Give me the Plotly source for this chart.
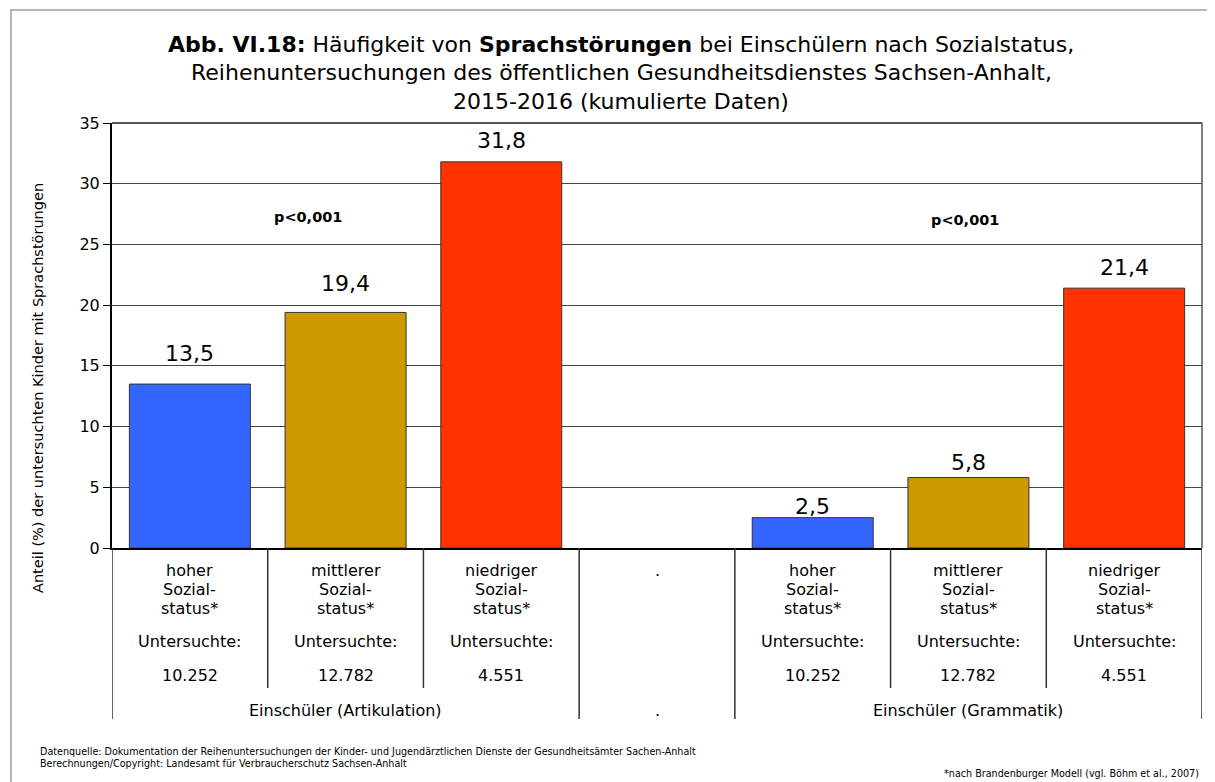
import plotly.graph_objects as go

# ---- data ----
slots = [0, 1, 2, 3, 4, 5, 6]
values = [13.5, 19.4, 31.8, None, 2.5, 5.8, 21.4]
bar_colors = ["#3366FF", "#CC9900", "#FF3300", "#FFFFFF", "#3366FF", "#CC9900", "#FF3300"]
cat_line1 = ["hoher", "mittlerer", "niedriger", ".", "hoher", "mittlerer", "niedriger"]
cat_line2 = ["Sozial-", "Sozial-", "Sozial-", "", "Sozial-", "Sozial-", "Sozial-"]
cat_line3 = ["status*", "status*", "status*", "", "status*", "status*", "status*"]
cat_line4 = ["Untersuchte:", "Untersuchte:", "Untersuchte:", "", "Untersuchte:", "Untersuchte:", "Untersuchte:"]
cat_counts = ["10.252", "12.782", "4.551", "", "10.252", "12.782", "4.551"]
groups = ["Einschüler (Artikulation)", ".", "Einschüler (Grammatik)"]
group_centers = [1, 3, 5]
pvals = ["p<0,001", "p<0,001"]
p_x = [0.76, 4.98]
p_y = [27.3, 27.0]

# style: vertical offset (px) of each value label above its bar
label_shift = [16, 14, 7, 0, -3, 1, 6]

FONT = "DejaVu Sans, Liberation Sans, Arial, sans-serif"
OFF = 8  # default page body margin
W, H = 1215 - OFF, 782 - OFF
L, R, T, B = 112, 1202, 123, 548


def px(xs):
    return (xs - L) / (R - L)


def py(ys):
    return (B - ys) / (B - T)


fig = go.Figure()
fig.add_bar(
    x=slots, y=values, marker=dict(color=bar_colors, line=dict(color="#333333", width=1)),
    hoverinfo="skip", showlegend=False,
)

ann = []
for s, v, sh in zip(slots, values, label_shift):
    if v is None:
        continue
    ann.append(dict(text=f"{v:.1f}".replace(".", ","), xref="x", yref="y", x=s, y=v,
                    xanchor="center", yanchor="bottom", yshift=sh, showarrow=False,
                    font=dict(size=22, color="black", family=FONT)))
title_lines = [
    "<b>Abb. VI.18:</b> Häufigkeit von <b>Sprachstörungen</b> bei Einschülern nach Sozialstatus,",
    "Reihenuntersuchungen des öffentlichen Gesundheitsdienstes Sachsen-Anhalt,",
    "2015-2016 (kumulierte Daten)",
]
for i, t in enumerate(title_lines):
    ann.append(dict(text=t, xref="paper", yref="paper", x=px(621), y=py(45 + i * 28),
                    xanchor="center", yanchor="middle", showarrow=False,
                    font=dict(size=22, color="black", family=FONT)))
ann.append(dict(text="Anteil (%) der untersuchten Kinder mit Sprachstörungen", textangle=-90,
                xref="paper", yref="paper", x=px(38), y=py(388), xanchor="center", yanchor="middle",
                showarrow=False, font=dict(size=14.5, color="black", family=FONT)))
for t, xv, yv in zip(pvals, p_x, p_y):
    ann.append(dict(text=f"<b>{t}</b>", xref="x", yref="y", x=xv, y=yv, showarrow=False,
                    font=dict(size=14.5, color="black", family=FONT)))
rows = [(cat_line1, 570), (cat_line2, 589), (cat_line3, 608), (cat_line4, 641), (cat_counts, 675)]
for arr, ys in rows:
    for s, t in zip(slots, arr):
        if t:
            ann.append(dict(text=t, xref="x", yref="paper", x=s, y=py(ys), showarrow=False,
                            xanchor="center", yanchor="middle",
                            font=dict(size=16, color="black", family=FONT)))
for g, c in zip(groups, group_centers):
    ann.append(dict(text=g, xref="x", yref="paper", x=c, y=py(710), showarrow=False,
                    xanchor="center", yanchor="middle", font=dict(size=16, color="black", family=FONT)))
ann.append(dict(text="Datenquelle: Dokumentation der Reihenuntersuchungen der Kinder- und Jugendärztlichen Dienste der Gesundheitsämter Sachen-Anhalt",
                xref="paper", yref="paper", x=px(38), y=py(751), xanchor="left", yanchor="middle",
                showarrow=False, font=dict(size=9.6, color="black", family=FONT)))
ann.append(dict(text="Berechnungen/Copyright: Landesamt für Verbraucherschutz Sachsen-Anhalt",
                xref="paper", yref="paper", x=px(38), y=py(763), xanchor="left", yanchor="middle",
                showarrow=False, font=dict(size=9.6, color="black", family=FONT)))
ann.append(dict(text="*nach Brandenburger Modell (vgl. Böhm et al., 2007)",
                xref="paper", yref="paper", x=px(1201), y=py(773), xanchor="right", yanchor="middle",
                showarrow=False, font=dict(size=9.6, color="black", family=FONT)))

shapes = []
shapes.append(dict(type="rect", xref="paper", yref="paper", x0=px(11), y0=py(10), x1=px(1240), y1=py(800),
                   line=dict(color="#A0A0A0", width=1.5), fillcolor="rgba(0,0,0,0)", layer="below"))
shapes.append(dict(type="line", xref="paper", yref="paper", x0=0, x1=1, y0=1, y1=1,
                   line=dict(color="#555555", width=2)))
shapes.append(dict(type="line", xref="paper", yref="paper", x0=1, x1=1, y0=0, y1=1,
                   line=dict(color="#555555", width=1.5)))
for s in slots + [slots[-1] + 1]:
    xb = s - 0.5
    full = xb in (-0.5, 2.5, 3.5, 6.5)
    shapes.append(dict(type="line", xref="x", yref="paper", x0=xb, x1=xb, y0=0,
                       y1=py(719 if full else 688), line=dict(color="#333333", width=1.5)))

fig.update_layout(
    width=W, height=H,
    margin=dict(l=L - OFF, r=W - (R - OFF), t=T - OFF, b=H - (B - OFF)),
    paper_bgcolor="white", plot_bgcolor="white",
    bargap=0.223, annotations=ann, shapes=shapes,
    font=dict(family=FONT, color="black"),
)
fig.update_xaxes(range=[-0.5, 6.5], showticklabels=False, showgrid=False, zeroline=False,
                 showline=True, linecolor="black", linewidth=2, ticks="")
fig.update_yaxes(range=[0, 35], dtick=5, tick0=0, showgrid=True, gridcolor="#444444", gridwidth=1,
                 zeroline=False, showline=True, linecolor="black", linewidth=2,
                 ticks="outside", ticklen=7, tickcolor="black", tickwidth=1,
                 tickfont=dict(size=16, color="black", family=FONT))

fig.write_html("out.html")
